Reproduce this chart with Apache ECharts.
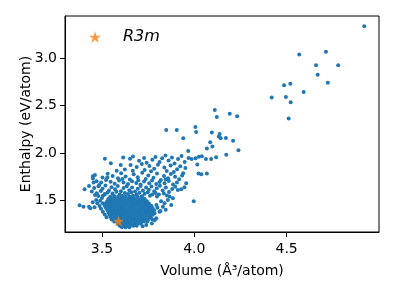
<!DOCTYPE html>
<html><head><meta charset="utf-8">
<script src="https://cdn.jsdelivr.net/npm/echarts@6/dist/echarts.min.js"></script>
<style>html,body{margin:0;padding:0;background:#fff}#c{width:396px;height:297px}</style>
</head><body><div id="c"></div>
<script>
// Axis ticks
const xTicks = [3.5, 4.0, 4.5];
const yTicks = [1.5, 2.0, 2.5, 3.0];

// R3m reference structure
const r3mPoint = [[3.59, 1.28]];

// High-volume / high-enthalpy sparse structures
const sparsePoints = [
  [4.92,3.338],[4.568,3.039],[4.713,3.070],[4.659,2.926],[4.779,2.926],[4.668,2.827],
  [4.723,2.743],[4.486,2.715],[4.520,2.732],[4.592,2.644],[4.419,2.585],[4.496,2.592],
  [4.522,2.535],[4.511,2.363],[4.111,2.454],[4.122,2.380],[4.192,2.415],[4.232,2.387],
  [3.848,2.243],[3.905,2.243],[4.006,2.275],[4.010,2.222],[3.940,2.155],[4.095,2.215],
  [4.137,2.201],[4.133,2.173],[4.143,2.155],[4.171,2.158],[4.210,2.130],[4.086,2.113],
  [4.098,2.067],[4.068,2.046],[4.239,2.028],[3.967,2.021],[4.173,1.982],[4.118,1.954],
  [4.091,1.937],[4.063,1.937],[4.041,1.965],[4.025,1.961],[4.007,1.944],[3.986,1.937],
  [4.016,1.877],[4.023,1.782],[4.038,1.775],[4.068,1.782],[3.997,1.489],[3.516,1.940],
  [3.548,1.891],[3.406,1.616],[3.451,1.754],[3.455,1.687]
];

// Medium-density band above the main cluster
const bandPoints = [
  [3.615,1.952],[3.652,1.938],[3.668,1.962],[3.701,1.918],[3.728,1.947],[3.742,1.897],[3.773,1.929],[3.790,1.958],
  [3.812,1.905],[3.826,1.944],[3.844,1.972],[3.861,1.921],[3.879,1.953],[3.893,1.889],[3.912,1.937],[3.931,1.968],
  [3.948,1.904],[3.969,1.946],[3.655,1.873],[3.688,1.851],[3.716,1.884],[3.757,1.862],[3.783,1.834],[3.803,1.876],
  [3.838,1.846],[3.872,1.868],[3.907,1.827],[3.924,1.859],[3.952,1.842],[3.624,1.826],[3.667,1.812],[3.731,1.821],
  [3.766,1.806],[3.851,1.809],[3.889,1.799],[3.940,1.785],[3.602,1.872],[3.580,1.812],
  [3.462,1.768],[3.503,1.742],[3.531,1.781],[3.558,1.757],[3.587,1.733],[3.604,1.786],[3.628,1.752],[3.651,1.719],
  [3.672,1.774],[3.694,1.743],[3.718,1.792],[3.737,1.726],[3.751,1.761],[3.779,1.739],[3.798,1.784],[3.819,1.714],
  [3.836,1.757],[3.858,1.732],[3.873,1.779],[3.896,1.748],[3.918,1.722],[3.934,1.763],[3.471,1.702],[3.496,1.689],
  [3.522,1.714],[3.547,1.697],[3.569,1.676],[3.593,1.708],[3.617,1.688],[3.641,1.672],[3.663,1.701],[3.686,1.683],
  [3.709,1.667],[3.728,1.698],[3.756,1.681],[3.771,1.709],[3.794,1.671],[3.812,1.694],[3.839,1.679],[3.862,1.703],
  [3.885,1.668],[3.906,1.689],[3.451,1.731],[3.485,1.661],[3.529,1.741],[3.611,1.725],[3.697,1.712],[3.845,1.720],
  [3.430,1.650],[3.458,1.631],[3.481,1.648],[3.503,1.622],[3.519,1.655],[3.538,1.604],[3.552,1.638],[3.571,1.617],
  [3.586,1.652],[3.603,1.596],[3.617,1.629],[3.634,1.648],[3.648,1.607],[3.663,1.635],[3.679,1.592],[3.694,1.621],
  [3.709,1.650],[3.722,1.603],[3.739,1.634],[3.754,1.612],[3.768,1.645],[3.783,1.595],[3.797,1.626],[3.814,1.653],
  [3.829,1.604],[3.846,1.636],[3.863,1.588],[3.880,1.618],[3.897,1.643],[3.445,1.592],[3.472,1.574],[3.494,1.598],
  [3.515,1.566],[3.531,1.582],[3.557,1.571],[3.578,1.589],[3.596,1.560],[3.624,1.578],[3.641,1.566],[3.659,1.585],
  [3.687,1.562],[3.703,1.579],[3.731,1.568],[3.748,1.586],[3.772,1.560],[3.790,1.577],[3.808,1.562],[3.835,1.572],
  [3.852,1.551],[3.462,1.557],[3.505,1.548],[3.566,1.545],[3.612,1.546],[3.668,1.548],[3.718,1.543],[3.760,1.547],
  [3.798,1.540]
];

// Left tail and right fringe of the main cluster
const fringePoints = [
  [3.379,1.447],[3.400,1.433],[3.430,1.433],[3.437,1.415],[3.460,1.426],[3.487,1.440],
  [3.469,1.504],[3.475,1.470],[3.495,1.410],[3.505,1.470],[3.490,1.495],[3.450,1.480],
  [3.505,1.380],[3.515,1.350],[3.525,1.320],[3.500,1.525],[3.480,1.545],[3.515,1.560],
  [3.758,1.398],[3.785,1.363],[3.794,1.310],[3.812,1.380],[3.830,1.433],[3.839,1.468],
  [3.857,1.504],[3.866,1.539],[3.884,1.521],[3.911,1.609],[3.929,1.616],[3.947,1.637],
  [3.956,1.680],[3.785,1.290],[3.770,1.255],[3.740,1.240],[3.720,1.225],[3.800,1.420],
  [3.820,1.490],[3.795,1.450],[3.845,1.400],[3.875,1.450],[3.817,1.387],[3.713,1.280]
];

// Dense core, one row of volumes per enthalpy level
const coreEnthalpy = [1.215,1.232,1.252,1.275,1.298,1.322,1.346,1.370,1.394,1.418,1.442,1.466,1.490,1.514,1.538];
const coreVolumes = [
  [3.608,3.628,3.648],
  [3.596,3.615,3.634,3.652,3.670,3.688],
  [3.585,3.603,3.621,3.639,3.657,3.675,3.693,3.711],
  [3.566,3.584,3.602,3.620,3.638,3.656,3.674,3.692,3.710,3.728,3.746],
  [3.552,3.570,3.588,3.606,3.624,3.642,3.660,3.678,3.696,3.714,3.732,3.750,3.772],
  [3.548,3.566,3.584,3.602,3.620,3.638,3.656,3.674,3.692,3.710,3.728,3.746,3.764],
  [3.540,3.558,3.576,3.594,3.612,3.630,3.648,3.666,3.684,3.702,3.720,3.738,3.756,3.775],
  [3.535,3.553,3.571,3.589,3.607,3.625,3.643,3.661,3.679,3.697,3.715,3.733,3.751,3.769],
  [3.530,3.548,3.566,3.584,3.602,3.620,3.638,3.656,3.674,3.692,3.710,3.728,3.746,3.764,3.782],
  [3.522,3.540,3.558,3.576,3.594,3.612,3.630,3.648,3.666,3.684,3.702,3.720,3.738,3.756,3.774],
  [3.515,3.533,3.551,3.569,3.587,3.605,3.623,3.641,3.659,3.677,3.695,3.713,3.731,3.749,3.767],
  [3.520,3.538,3.556,3.574,3.592,3.610,3.628,3.646,3.664,3.682,3.700,3.718,3.736,3.754],
  [3.528,3.546,3.564,3.582,3.600,3.618,3.636,3.654,3.672,3.690,3.708,3.726,3.744],
  [3.534,3.552,3.570,3.588,3.606,3.624,3.642,3.660,3.678,3.696,3.714,3.732],
  [3.545,3.566,3.587,3.608,3.629,3.650,3.671,3.692,3.713]
];

const corePoints = [];
coreEnthalpy.forEach((h, i) => coreVolumes[i].forEach(v => corePoints.push([v, h])));
const allPoints = corePoints.concat(fringePoints, bandPoints, sparsePoints);

const starPath = 'path://M50,0 L61.2,34.5 L97.6,34.5 L68.2,55.9 L79.4,90.5 L50,69.1 L20.6,90.5 L31.8,55.9 L2.4,34.5 L38.8,34.5 Z';
const FONT = 'DejaVu Sans';

const chart = echarts.init(document.getElementById('c'), null, {renderer: 'canvas'});
chart.setOption({
  animation: false,
  backgroundColor: '#fff',
  textStyle: {fontFamily: FONT},
  grid: {left: 65, right: 17, top: 16, bottom: 65, show: true, borderColor: '#000', borderWidth: 1, outerBoundsMode: 'none', containLabel: false},
  legend: {
    data: [{name: 'R3m', icon: starPath}],
    left: 89, top: 29, padding: 0,
    itemWidth: 12, itemHeight: 12,
    textStyle: {fontFamily: FONT, fontStyle: 'italic', fontSize: 16, color: '#000', padding: [0, 0, 0, 17]}
  },
  xAxis: {
    type: 'value', min: 3.3, max: 5.0,
    name: 'Volume (Å³/atom)', nameLocation: 'middle', nameGap: 32, nameMoveOverlap: false,
    nameTextStyle: {fontFamily: FONT, fontSize: 14, color: '#000'},
    axisLine: {show: true, lineStyle: {color: '#000', width: 1}},
    axisTick: {show: true, length: 5, lineStyle: {color: '#000'}, customValues: xTicks},
    axisLabel: {fontFamily: FONT, fontSize: 14, color: '#000', margin: 10, customValues: xTicks, formatter: v => v.toFixed(1)},
    splitLine: {show: false}
  },
  yAxis: {
    type: 'value', min: 1.165, max: 3.447,
    name: 'Enthalpy (eV/atom)', nameLocation: 'middle', nameGap: 32, nameMoveOverlap: false,
    nameTextStyle: {fontFamily: FONT, fontSize: 14, color: '#000'},
    axisLine: {show: true, lineStyle: {color: '#000', width: 1}},
    axisTick: {show: true, length: 5, lineStyle: {color: '#000'}, customValues: yTicks},
    axisLabel: {fontFamily: FONT, fontSize: 14, color: '#000', margin: 8, customValues: yTicks, formatter: v => v.toFixed(1)},
    splitLine: {show: false}
  },
  series: [
    {type: 'scatter', name: 'structures', data: allPoints, symbol: 'circle', symbolSize: 4,
     itemStyle: {color: '#1f77b4', opacity: 1}, silent: true, large: false, progressive: 0},
    {type: 'scatter', name: 'R3m', data: r3mPoint, symbol: starPath, symbolSize: 11,
     itemStyle: {color: '#ff7f0e'}, silent: true, z: 5}
  ]
});
</script>
</body></html>
